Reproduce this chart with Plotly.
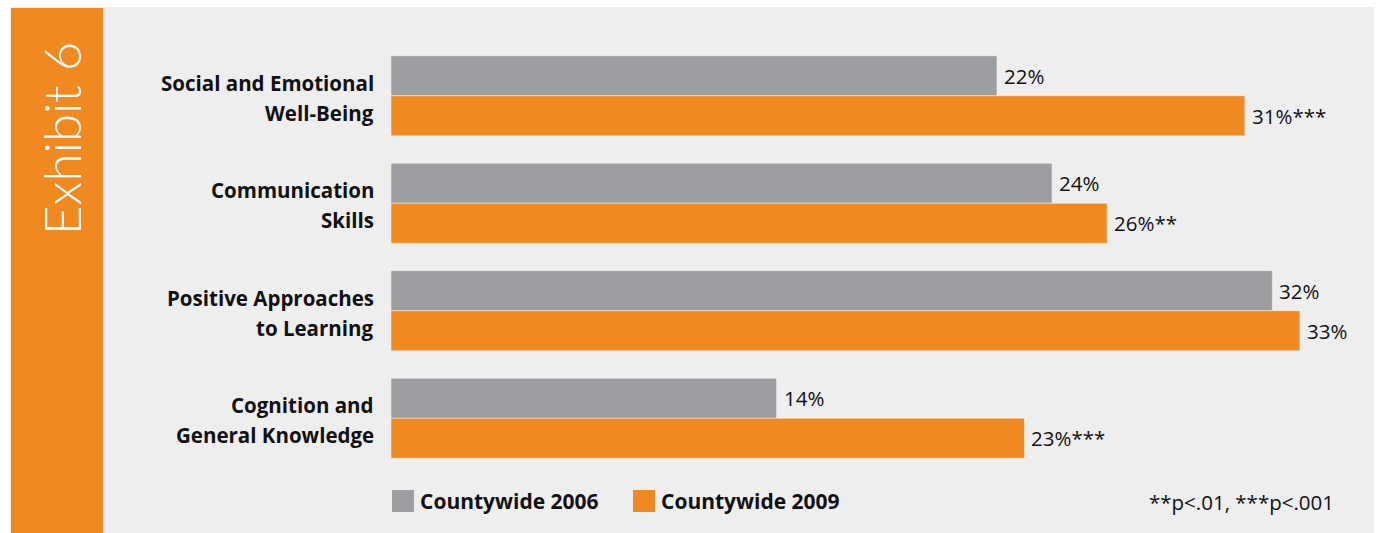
import plotly.graph_objects as go

# Survey domains (top to bottom) and the share of children in each year
categories = [
    "Social and Emotional<br>Well-Being",
    "Communication<br>Skills",
    "Positive Approaches<br>to Learning",
    "Cognition and<br>General Knowledge",
]
values_2006 = [22, 24, 32, 14]
values_2009 = [31, 26, 33, 23]
labels_2006 = ["22%", "24%", "32%", "14%"]
labels_2009 = ["31%***", "26%**", "33%", "23%***"]
series_names = ["Countywide 2006", "Countywide 2009"]
footnote = "**p<.01, ***p<.001"
exhibit_title = "Exhibit 6"

GRAY = "#9d9ea2"
ORANGE = "#f0891f"
PANEL = "#eeeeee"
INK = "#111111"
FONT = "Open Sans"

W, H = 1380, 533
L, R, T, B = 391, 25, 42, 61
plot_w = W - L - R
plot_h = H - T - B


def px_x(px):
    return (px - L) / plot_w


def px_y(py):
    return (H - B - py) / plot_h


fig = go.Figure()
annotations = []
for name, vals, labs, col, shift in [
    (series_names[0], values_2006, labels_2006, GRAY, 20),
    (series_names[1], values_2009, labels_2009, ORANGE, -20),
]:
    fig.add_trace(go.Bar(
        y=categories, x=vals, orientation="h", name=name,
        marker=dict(color=col, line=dict(color="rgba(255,255,255,0.45)", width=1)),
        showlegend=False,
    ))
    # value labels just past the end of each bar
    for cat, v, lab in zip(categories, vals, labs):
        annotations.append(dict(
            text=lab, x=v, y=cat, xref="x", yref="y",
            xanchor="left", yanchor="middle", xshift=5, yshift=shift,
            showarrow=False,
            font=dict(family=FONT, size=20.5, color=INK)))

# two-line category labels, right-aligned beside the bars
for cat in categories:
    line1, line2 = cat.split("<br>")
    for txt, dy in [(line1, 13), (line2, -17)]:
        annotations.append(dict(
            text=f"<b>{txt}</b>", x=px_x(376), y=cat, xref="paper", yref="y",
            xanchor="right", yanchor="middle", yshift=dy, showarrow=False,
            font=dict(family=FONT, size=20.5, color=INK)))

shapes = [
    # grey panel
    dict(type="rect", xref="paper", yref="paper", layer="below",
         x0=px_x(10), x1=px_x(1374), y0=px_y(533), y1=px_y(7),
         fillcolor=PANEL, line=dict(width=0)),
    # orange side band
    dict(type="rect", xref="paper", yref="paper", layer="below",
         x0=px_x(11), x1=px_x(103), y0=px_y(533), y1=px_y(8),
         fillcolor=ORANGE, line=dict(width=0)),
]

annotations += [
    dict(text=exhibit_title, xref="paper", yref="paper",
         x=px_x(61), y=px_y(139), textangle=-90, showarrow=False,
         xanchor="center", yanchor="middle",
         font=dict(family="Lato", size=51, color="white", weight=300)),
    dict(text=footnote, xref="paper", yref="paper",
         x=px_x(1336), y=px_y(502), showarrow=False,
         xanchor="right", yanchor="middle",
         font=dict(family=FONT, size=20.5, color=INK)),
]

# legend keys
for (sx, tx), name, col in zip([(392, 418), (633, 659)], series_names, [GRAY, ORANGE]):
    shapes.append(dict(type="rect", xref="paper", yref="paper",
                       x0=px_x(sx), x1=px_x(sx + 22), y0=px_y(512), y1=px_y(490),
                       fillcolor=col, line=dict(width=0)))
    annotations.append(dict(text=f"<b>{name}</b>", xref="paper", yref="paper",
                            x=px_x(tx), y=px_y(501), showarrow=False,
                            xanchor="left", yanchor="middle",
                            font=dict(family=FONT, size=21, color=INK)))

fig.update_layout(
    width=W, height=H,
    margin=dict(l=L, r=R, t=T, b=B, pad=0),
    paper_bgcolor="white", plot_bgcolor="rgba(0,0,0,0)",
    barmode="group", bargap=0.256, bargroupgap=0,
    shapes=shapes, annotations=annotations,
    xaxis=dict(range=[0, 35], visible=False, fixedrange=True),
    yaxis=dict(autorange="reversed", showgrid=False, zeroline=False,
               showline=False, ticks="", showticklabels=False),
)

fig.write_html("out.html", config={"displayModeBar": False})
